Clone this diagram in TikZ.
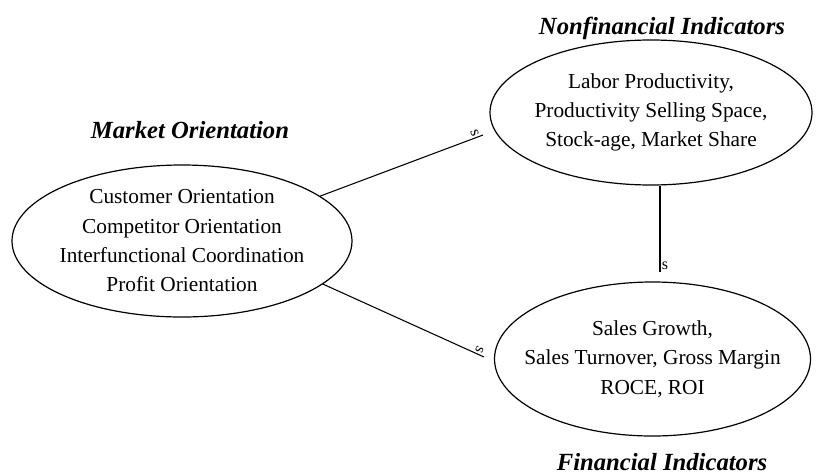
\documentclass[tikz,border=0pt]{standalone}
\usepackage{fontspec}
\setmainfont{Liberation Serif}
\usetikzlibrary{shapes.geometric}
\tikzset{
oval/.style={
	  draw, ellipse, line width=0.9pt, inner sep=0pt},
head/.style={font=\fontsize{18.5}{22}\selectfont\bfseries\itshape},
body/.style={align=center, font=\fontsize{16}{22}\selectfont},
tag/.style={font=\fontsize{12}{14}\selectfont, inner sep=1pt}
}

\begin{document}
\begin{tikzpicture}[x=0.75pt, y=-0.75pt, line width=0.8pt]
	\useasboundingbox (0,0) rectangle (820,475);
	\node[oval, minimum width=255pt, minimum height=114pt,
		label={[body]center:{Customer Orientation\\Competitor Orientation\\Interfunctional Coordination\\Profit Orientation}}] (mo) at (182,241) {};
	\node[oval, minimum width=241.5pt, minimum height=108.75pt,
		label={[body]center:{Labor Productivity,\\Productivity Selling Space,\\Stock-age, Market Share}}] (nf) at (651,112.5) {};
	\node[oval, minimum width=237pt, minimum height=115.5pt,
		label={[body]center:{Sales Growth,\\Sales Turnover, Gross Margin\\ROCE, ROI}}] (fi) at (652.5,359) {};

	\node[head] (mohead) at (190,130) {Market Orientation};
	\node[head] (nfhead) at (662,28) {Nonfinancial Indicators};
	\node[head] (fihead) at (662,462) {Financial Indicators};

	\coordinate (nfin) at (483,135);
	\coordinate (fiin) at (484,357);
	\coordinate (fitop) at (660,272);
	\draw (mo.18) -- (nfin) node[tag, pos=0.96, rotate=-69, anchor=east] (s1) {s};
	\draw (mo.-17) -- (fiin) node[tag, pos=0.96, rotate=-114, anchor=east] (s2) {s};
	\draw (nf.south -| fitop) -- (fitop) node[tag, anchor=south west] (s3) {s};

\end{tikzpicture}
\end{document}
